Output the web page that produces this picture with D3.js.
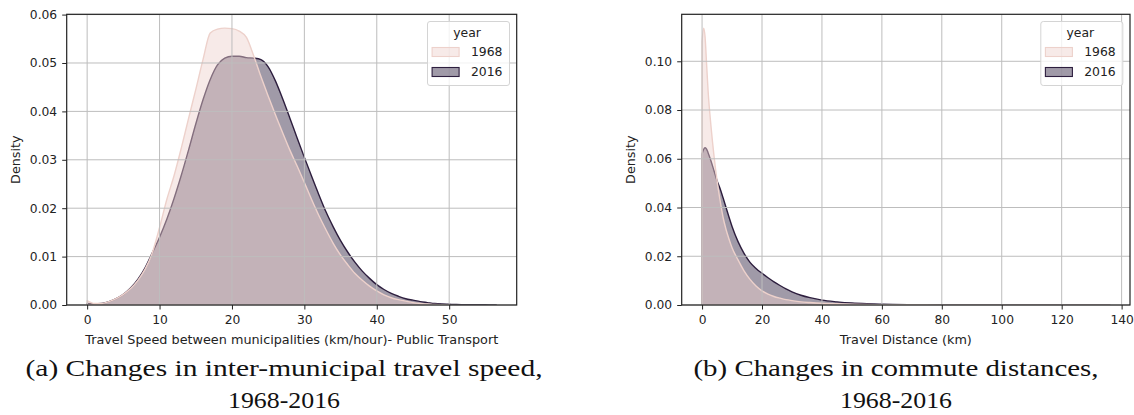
<!DOCTYPE html>
<html>
<head>
<meta charset="utf-8">
<script src="https://cdn.jsdelivr.net/npm/d3@7/dist/d3.min.js"></script>
<style>
  html, body { margin: 0; padding: 0; background: #fff; }
  svg { display: block; }
</style>
</head>
<body>
<svg id="fig" width="1134" height="415"></svg>
<script>
// ---- data -------------------------------------------------------------
const years = ["1968", "2016"];

// (a) inter-municipal travel speed, km/hour
const speedKmh = [0,1,2,3,4,5,6,7,8,9,10,11,12,13,14,15,16,17,18,19,20,21,22,23,24,25,26,27,28,29,
  30,31,32,33,34,35,36,37,38,39,40,41,42,43,44,45,46,47,48,49,50,51,52,53,54,55,56,56.5];
const speedDensity1968 = [0.0009,0.0003,0.0003,0.0007,0.0013,0.0022,0.0034,0.0051,0.0074,0.0108,
  0.0160,0.0218,0.0267,0.0324,0.0385,0.0445,0.0507,0.0562,0.0570,0.0572,
  0.0571,0.0566,0.0553,0.0515,0.0472,0.0432,0.0393,0.0356,0.0320,0.0287,
  0.0253,0.0218,0.0185,0.0155,0.0127,0.0103,0.0083,0.0065,0.0051,0.0039,
  0.0029,0.0021,0.0015,0.0011,0.0008,0.0005,0.0003,0.0002,0.0001,0.00005,0.00002];
const speedDensity2016 = [0.0003,0.0002,0.0003,0.0007,0.0013,0.0022,0.0035,0.0053,0.0077,0.0108,
  0.0140,0.0177,0.0220,0.0268,0.0320,0.0374,0.0424,0.0466,0.0496,0.0510,
  0.0514,0.0514,0.0511,0.0510,0.0507,0.0492,0.0463,0.0426,0.0386,0.0345,
  0.0305,0.0266,0.0228,0.0192,0.0161,0.0133,0.0109,0.0088,0.0070,0.0055,
  0.0042,0.0032,0.0024,0.0018,0.0013,0.0010,0.0007,0.0005,0.0003,0.0002,
  0.00015,0.0001,0.00008,0.00006,0.00005,0.00004,0.00003,0.00002];

// (b) commute distance, km
const distanceKm = [0,0.5,1,1.5,2,3,4,5,6,7,8,9,10,12,14,16,18,20,22,24,26,28,30,33,36,40,45,50,55,60,70,80,100,120,136];
const distanceDensity1968 = [0.108,0.1136,0.110,0.099,0.088,0.073,0.061,0.051,0.043,0.036,0.031,0.027,0.0235,
  0.0185,0.0140,0.0105,0.0078,0.0058,0.0045,0.0035,0.0028,0.0022,0.0018,
  0.0013,0.0010,0.0007,0.0005,0.0003,0.0002,0.00015,0.0001,0.00005,0.00002,0.00001,0];
const distanceDensity2016 = [0.0620,0.0638,0.0645,0.0640,0.0625,0.0590,0.0550,0.0510,0.0478,0.0440,0.0400,0.0360,0.0322,
  0.0260,0.0212,0.0175,0.0150,0.0130,0.0112,0.0095,0.0080,0.0066,0.0054,
  0.0040,0.0030,0.0020,0.0013,0.0008,0.0005,0.0003,0.00012,0.00005,0.00002,0.00001,0];

// axis ticks
const speedTicksX = [0,10,20,30,40,50];
const speedTicksY = [0,0.01,0.02,0.03,0.04,0.05,0.06];
const distanceTicksX = [0,20,40,60,80,100,120,140];
const distanceTicksY = [0,0.02,0.04,0.06,0.08,0.10];

// texts
const yLabel = "Density";
const legendTitle = "year";
const speedLabel = "Travel Speed between municipalities (km/hour)- Public Transport";
const distanceLabel = "Travel Distance (km)";
const speedCaption = ["(a) Changes in inter-municipal travel speed,", "1968-2016"];
const distanceCaption = ["(b) Changes in commute distances,", "1968-2016"];

// ---- drawing ----------------------------------------------------------
const svg = d3.select("#fig");
const palette = { "1968": "#edd1cb", "2016": "#2d1e3e" };
const fillAlpha = 0.45;
const sansFont = "'DejaVu Sans', sans-serif";
const serifFont = "'Liberation Serif', serif";
const textColor = "#222";
const tickSize = "12.3px", labelSize = "12.8px", legendSize = "12.4px";

const panels = [
  {
    box: { l: 66.7, r: 516.7, t: 14.3, b: 305 },
    x: speedKmh,
    series: { "1968": speedDensity1968, "2016": speedDensity2016 },
    xTicks: speedTicksX, yTicks: speedTicksY,
    xLabel: speedLabel, caption: speedCaption,
    captionX: 284, captionWidths: [517, 112]
  },
  {
    box: { l: 681.7, r: 1130, t: 14.3, b: 305 },
    x: distanceKm,
    series: { "1968": distanceDensity1968, "2016": distanceDensity2016 },
    xTicks: distanceTicksX, yTicks: distanceTicksY,
    xLabel: distanceLabel, caption: distanceCaption,
    captionX: 896, captionWidths: [405, 112]
  }
];

panels.forEach(p => {
  const { l, r, t, b } = p.box;
  const xMin = d3.min(p.x), xMax = d3.max(p.x);
  const xPad = 0.05 * (xMax - xMin);
  const x = d3.scaleLinear().domain([xMin - xPad, xMax + xPad]).range([l, r]);
  const yMax = d3.max(years, yr => d3.max(p.series[yr]));
  const y = d3.scaleLinear().domain([0, yMax * 1.05]).range([b, t]);

  const g = svg.append("g");
  const clipId = "clip" + Math.round(l);
  g.append("clipPath").attr("id", clipId)
    .append("rect").attr("x", l).attr("y", t).attr("width", r - l).attr("height", b - t);

  // density layers: 2016 underneath, 1968 on top
  const layers = g.append("g").attr("clip-path", `url(#${clipId})`);
  ["2016", "1968"].forEach(yr => {
    const vals = p.series[yr];
    const pts = vals.map((v, i) => [p.x[i], v]);
    const area = d3.area()
      .x(d => x(d[0])).y0(y(0)).y1(d => y(d[1]))
      .curve(d3.curveMonotoneX);
    layers.append("path")
      .attr("d", area(pts) + "Z")
      .attr("fill", palette[yr])
      .attr("fill-opacity", fillAlpha)
      .attr("stroke", palette[yr])
      .attr("stroke-width", 1.4)
      .attr("stroke-linejoin", "round");
  });

  // grid
  const grid = g.append("g").attr("stroke", "#bdbdbd").attr("stroke-width", 1);
  p.xTicks.forEach(v => {
    if (x(v) >= l && x(v) <= r)
      grid.append("line").attr("x1", x(v)).attr("x2", x(v)).attr("y1", t).attr("y2", b);
  });
  p.yTicks.forEach(v => {
    grid.append("line").attr("x1", l).attr("x2", r).attr("y1", y(v)).attr("y2", y(v));
  });

  // axes
  const xAxis = g.append("g").attr("transform", `translate(0,${b})`)
    .call(d3.axisBottom(x).tickValues(p.xTicks).tickSize(4.5).tickPadding(5.3).tickFormat(d3.format("d")));
  const yAxis = g.append("g").attr("transform", `translate(${l},0)`)
    .call(d3.axisLeft(y).tickValues(p.yTicks).tickSize(4.5).tickPadding(5.0).tickFormat(d3.format(".2f")));
  [xAxis, yAxis].forEach(ax => {
    ax.select(".domain").remove();
    ax.selectAll("line").attr("stroke", textColor).attr("stroke-width", 1);
    ax.selectAll("text").attr("fill", textColor).style("font-family", sansFont).style("font-size", tickSize);
  });

  // spines
  g.append("rect").attr("x", l).attr("y", t).attr("width", r - l).attr("height", b - t)
    .attr("fill", "none").attr("stroke", textColor).attr("stroke-width", 1.2);

  // axis labels
  g.append("text")
    .attr("transform", `translate(${l - 51},${(t + b) / 2}) rotate(-90)`)
    .attr("text-anchor", "middle").attr("dy", "0.35em")
    .style("font-family", sansFont).style("font-size", labelSize).attr("fill", textColor)
    .text(yLabel);
  g.append("text")
    .attr("x", (l + r) / 2).attr("y", 343.6)
    .attr("text-anchor", "middle")
    .style("font-family", sansFont).style("font-size", labelSize).attr("fill", textColor)
    .text(p.xLabel);

  // legend
  const lgW = 82, lgH = 64;
  const lgX = r - 7.2 - lgW, lgY = t + 7.2;
  const lg = g.append("g").attr("transform", `translate(${lgX},${lgY})`);
  lg.append("rect").attr("width", lgW).attr("height", lgH).attr("rx", 2.5)
    .attr("fill", "#fff").attr("fill-opacity", 0.8)
    .attr("stroke", "#d4d4d4").attr("stroke-width", 1);
  lg.append("text").attr("x", lgW / 2 - 1.5).attr("y", 15.4)
    .attr("text-anchor", "middle")
    .style("font-family", sansFont).style("font-size", legendSize).attr("fill", textColor)
    .text(legendTitle);
  years.forEach((yr, i) => {
    const rowY = 30.5 + i * 20;
    lg.append("rect").attr("x", 4.6).attr("y", rowY - 4.5).attr("width", 27).attr("height", 9)
      .attr("fill", palette[yr]).attr("fill-opacity", fillAlpha)
      .attr("stroke", palette[yr]).attr("stroke-width", 1.1);
    lg.append("text").attr("x", 43.4).attr("y", rowY).attr("dy", "0.36em")
      .style("font-family", sansFont).style("font-size", legendSize).attr("fill", textColor)
      .text(yr);
  });

  // caption
  p.caption.forEach((line, i) => {
    svg.append("text")
      .attr("x", p.captionX).attr("y", 376 + i * 32)
      .attr("text-anchor", "middle")
      .attr("textLength", p.captionWidths[i])
      .attr("lengthAdjust", "spacingAndGlyphs")
      .style("font-family", serifFont).style("font-size", "24px").attr("fill", "#111")
      .text(line);
  });
});
</script>
</body>
</html>
